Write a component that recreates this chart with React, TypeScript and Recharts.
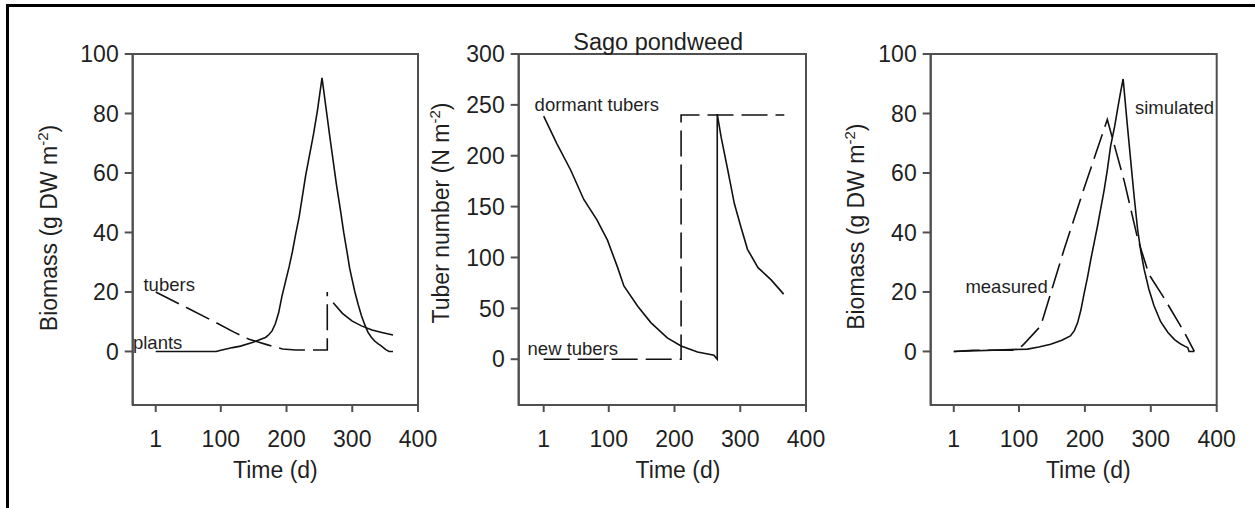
import React from 'react';
import { LineChart, Line, XAxis, YAxis, ReferenceDot, ReferenceArea } from 'recharts';

// ---------------- data ----------------
// Panel 1: simulated biomass (g DW m-2)
const plantsDay = [1, 93, 100, 110, 118, 130, 148, 160, 168, 173, 178, 183, 188, 193, 199, 204, 209, 214, 219, 224, 229, 235, 241, 247, 254, 260, 266, 271, 276, 282, 287, 292, 296, 300, 304, 309, 314, 319, 324, 329, 334, 339, 344, 351, 356, 362];
const plantsBiomass = [0, 0, 0.4, 0.9, 1.3, 1.8, 3.0, 4.0, 4.7, 5.6, 6.9, 9.3, 13, 18.5, 24, 28.5, 33.6, 39.5, 45, 52, 59, 66, 73, 81, 92, 82, 72, 64, 56, 47.5, 40, 33.5, 28, 24, 20, 15.8, 12, 9, 6.4, 4.8, 3.5, 2.6, 1.9, 0.6, 0, 0];
const tubersDay = [1, 50, 93, 120, 143, 170, 194, 214, 249, 262, 262];
const tubersBiomass = [20, 14.5, 9.7, 6.5, 4.1, 2.3, 0.8, 0.5, 0.5, 0.5, 20];
const tubersLateDay = [271, 285, 300, 314, 330, 345, 362];
const tubersLateBiomass = [16.4, 12.8, 10.2, 8.6, 7.2, 6.4, 5.5];

// Panel 2: tuber number (N m-2)
const dormantDay = [1, 21, 42, 62, 82, 98, 113, 123, 144, 164, 189, 210, 235, 260, 265, 265, 271, 281, 291, 301, 311, 327, 347, 366];
const dormantNumber = [239, 212, 186, 157, 137, 117, 91, 72, 52, 36, 21, 13, 7, 4, 0, 241, 218, 186, 153, 130, 108, 90, 78, 64];
const newTubersDay = [1, 210, 210, 367];
const newTubersNumber = [0, 0, 240, 240];

// Panel 3: simulated vs measured biomass
const simulatedDay = [1, 113, 130, 148, 165, 178, 184, 189, 194, 199, 204, 209, 214, 219, 224, 229, 234, 239, 245, 250, 254, 258, 264, 270, 275, 280, 285, 290, 297, 305, 315, 326, 336, 346, 352, 356, 358, 366];
const simulatedBiomass = [0, 0.8, 1.5, 2.4, 3.8, 5.2, 7, 9.7, 14, 19.7, 25, 31, 36.5, 42, 48, 54, 61, 69, 75.5, 82, 87, 91.6, 77, 63, 51.5, 41, 33.5, 27.5, 21, 15.3, 10, 6.4, 4, 2.4, 1.7, 1.3, 0, 0];
const measuredDay = [1, 30, 90, 105, 133, 168, 199, 234, 260, 280, 297, 320, 351, 366];
const measuredBiomass = [0, 0.4, 0.4, 1.9, 8.6, 34, 55, 78, 57, 38, 26, 18, 6.4, 0];

// ticks
const timeTicks = [1, 100, 200, 300, 400];
const biomassTicks = [0, 20, 40, 60, 80, 100];
const tuberTicks = [0, 50, 100, 150, 200, 250, 300];

// text labels
const panelTitle = 'Sago pondweed';
const timeTitle = 'Time (d)';
const biomassTitle = 'Biomass (g DW m';
const tuberTitle = 'Tuber number (N m';
const supText = '-2';
const p1Notes = ['tubers', 'plants'];
const p2Notes = ['dormant tubers', 'new tubers'];
const p3Notes = ['simulated', 'measured'];
// annotation anchors in data units [day, value]
const p1NotePos = [[-17.6, 22.5], [-33.6, 3.2]];
const p2NotePos = [[-12.8, 251], [-23.5, 10.5]];
const p3NotePos = [[276, 82.1], [18.7, 21.9]];

// ---------------- style / layout ----------------
const FONT = '"Liberation Sans", Arial, Helvetica, sans-serif';
const TEXT = '#1f1f1f';
const AXIS = '#505050';
const INK = '#111111';
const W = 1255;
const H = 508;
const PLOT_TOP = 54;
const PLOT_BOTTOM = 405;
const YW = 80;
const XH = 40;

const pts = (xs: number[], ys: number[]) => xs.map((x, i) => ({ x, y: ys[i] }));

type Series = { data: { x: number; y: number }[]; dashed: boolean };
type Note = { x: number; y: number; text: string };

type PanelProps = {
  left: number;
  right: number;
  xDomain: [number, number];
  yDomain: [number, number];
  yTicks: number[];
  yTitle: string;
  yTitleX: number;
  yTitleY: number;
  xTitleX: number;
  series: Series[];
  notes: Note[];
  title?: string;
  titleX?: number;
};

const notesOf = (texts: string[], pos: number[][]): Note[] =>
  texts.map((t, i) => ({ text: t, x: pos[i][0], y: pos[i][1] }));

function Panel(p: PanelProps) {
  const yTitleContent = () => (
    <text
      x={p.yTitleX}
      y={p.yTitleY}
      dy="0.36em"
      transform={`rotate(-90 ${p.yTitleX} ${p.yTitleY})`}
      textAnchor="middle"
      fontSize={23}
      fontFamily={FONT}
      fill={TEXT}
    >
      {p.yTitle}
      <tspan dy={-9} fontSize={15}>{supText}</tspan>
      <tspan dy={9}>)</tspan>
    </text>
  );
  const xTitleContent = () => (
    <g>
      <text x={p.xTitleX} y={470} dy="0.36em" textAnchor="middle" fontSize={23} fontFamily={FONT} fill={TEXT}>
        {timeTitle}
      </text>
      {p.title ? (
        <text x={p.titleX} y={50} textAnchor="middle" fontSize={23.5} fontFamily={FONT} fill={TEXT}>
          {p.title}
        </text>
      ) : null}
    </g>
  );

  return (
    <LineChart
      width={W}
      height={H}
      margin={{ top: PLOT_TOP, right: W - p.right, bottom: H - PLOT_BOTTOM - XH, left: p.left - YW }}
      style={{ position: 'absolute', left: 0, top: 0 }}
    >
      <XAxis
        xAxisId="b"
        dataKey="x"
        type="number"
        domain={p.xDomain}
        ticks={timeTicks}
        interval={0}
        allowDataOverflow
        height={XH}
        tickSize={7}
        tickMargin={19}
        axisLine={{ stroke: AXIS, strokeWidth: 2 }}
        tickLine={{ stroke: AXIS, strokeWidth: 2 }}
        tick={{ fill: TEXT, fontSize: 23, fontFamily: FONT }}
        label={{ content: xTitleContent }}
      />
      <YAxis
        yAxisId="l"
        type="number"
        domain={p.yDomain}
        ticks={p.yTicks}
        interval={0}
        allowDataOverflow
        width={YW}
        tickSize={8}
        tickMargin={6}
        axisLine={{ stroke: AXIS, strokeWidth: 2 }}
        tickLine={{ stroke: AXIS, strokeWidth: 2 }}
        tick={{ fill: TEXT, fontSize: 23, fontFamily: FONT }}
        label={{ content: yTitleContent }}
      />
      <ReferenceArea
        xAxisId="b"
        yAxisId="l"
        x1={p.xDomain[0]}
        x2={p.xDomain[1]}
        y1={p.yDomain[0]}
        y2={p.yDomain[1]}
        fill="none"
        fillOpacity={0}
        stroke={AXIS}
        strokeWidth={2}
        ifOverflow="visible"
      />
      {p.series.map((s, i) => (
        <Line
          key={i}
          xAxisId="b"
          yAxisId="l"
          data={s.data}
          dataKey="y"
          type="linear"
          stroke={INK}
          strokeWidth={1.6}
          strokeDasharray={s.dashed ? '26 8' : undefined}
          dot={false}
          activeDot={false}
          isAnimationActive={false}
        />
      ))}
      {p.notes.map((n, i) => (
        <ReferenceDot
          key={'n' + i}
          xAxisId="b"
          yAxisId="l"
          x={n.x}
          y={n.y}
          r={0}
          fill="none"
          stroke="none"
          ifOverflow="visible"
          label={{
            content: (props: any) => {
              const vb = props.viewBox || {};
              const cx = (vb.x ?? 0) + (vb.width ?? 0) / 2;
              const cy = (vb.y ?? 0) + (vb.height ?? 0) / 2;
              return (
                <text x={cx} y={cy} dy="0.36em" textAnchor="start" fontSize={18.5} fontFamily={FONT} fill={TEXT}>
                  {n.text}
                </text>
              );
            },
          }}
        />
      ))}
    </LineChart>
  );
}

export default function App() {
  return (
    <div style={{ position: 'absolute', left: 0, top: 0, width: W, height: H, overflow: 'hidden', background: '#fff' }}>
      <div
        style={{
          position: 'absolute',
          left: 6,
          top: 4,
          right: 0,
          bottom: 0,
          borderTop: '3px solid #000',
          borderLeft: '3px solid #000',
        }}
      />
      <Panel
        left={132.7}
        right={418}
        xDomain={[-34, 400]}
        yDomain={[-18, 100]}
        yTicks={biomassTicks}
        yTitle={biomassTitle}
        yTitleX={49}
        yTitleY={228}
        xTitleX={275.4}
        series={[
          { data: pts(plantsDay, plantsBiomass), dashed: false },
          { data: pts(tubersDay, tubersBiomass), dashed: true },
          { data: pts(tubersLateDay, tubersLateBiomass), dashed: false },
        ]}
        notes={notesOf(p1Notes, p1NotePos)}
      />
      <Panel
        left={518.7}
        right={806}
        xDomain={[-37, 400]}
        yDomain={[-45, 300]}
        yTicks={tuberTicks}
        yTitle={tuberTitle}
        yTitleX={440.8}
        yTitleY={213}
        xTitleX={678}
        series={[
          { data: pts(dormantDay, dormantNumber), dashed: false },
          { data: pts(newTubersDay, newTubersNumber), dashed: true },
        ]}
        notes={notesOf(p2Notes, p2NotePos)}
        title={panelTitle}
        titleX={658.2}
      />
      <Panel
        left={930.7}
        right={1216.7}
        xDomain={[-34, 400]}
        yDomain={[-18, 100]}
        yTicks={biomassTicks}
        yTitle={biomassTitle}
        yTitleX={855.8}
        yTitleY={226.7}
        xTitleX={1088.3}
        series={[
          { data: pts(simulatedDay, simulatedBiomass), dashed: false },
          { data: pts(measuredDay, measuredBiomass), dashed: true },
        ]}
        notes={notesOf(p3Notes, p3NotePos)}
      />
    </div>
  );
}
